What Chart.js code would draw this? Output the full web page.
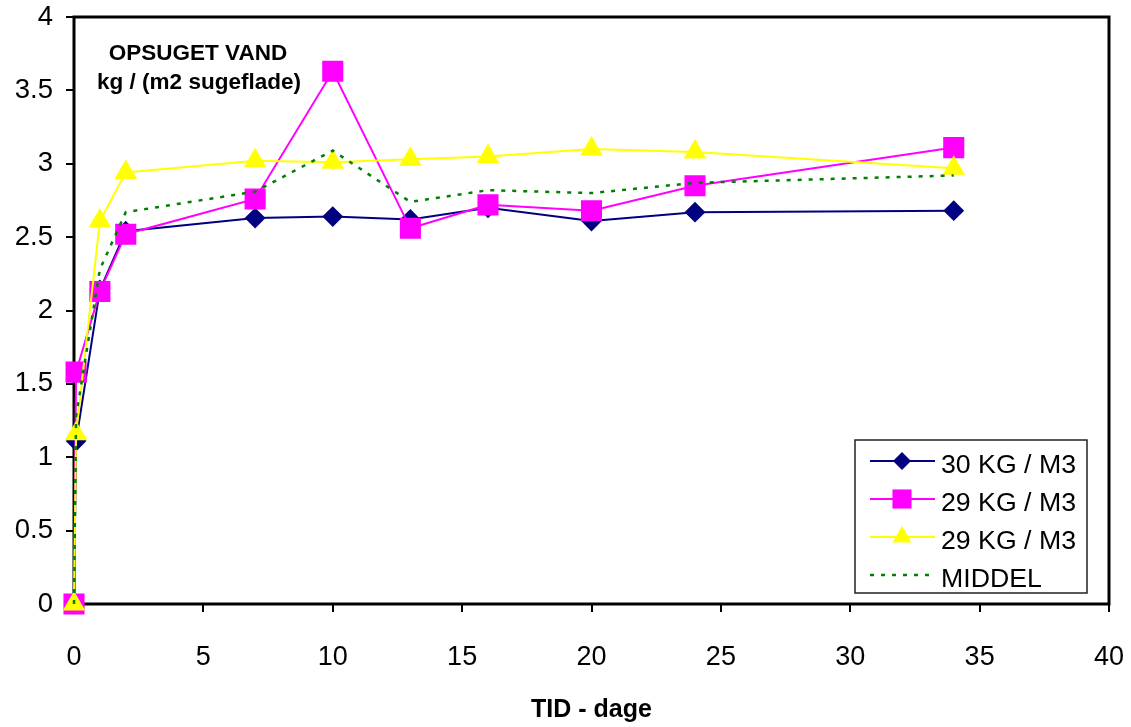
<!DOCTYPE html>
<html>
<head>
<meta charset="utf-8">
<script src="https://cdn.jsdelivr.net/npm/chart.js@4.4.0/dist/chart.umd.min.js"></script>
<style>
  html, body { margin: 0; padding: 0; background: #fff; }
  canvas { display: block; }
</style>
</head>
<body>
<canvas id="graf" width="1131" height="727"></canvas>
<script>
// Tid i dage
const dage = [0, 0.08, 1, 2, 7, 10, 13, 16, 20, 24, 34];

// Opsuget vand, kg / (m2 sugeflade)
const kg30 = [0, 1.11, 2.14, 2.54, 2.63, 2.64, 2.62, 2.70, 2.61, 2.67, 2.68];
const kg29a = [0, 1.58, 2.13, 2.52, 2.76, 3.63, 2.56, 2.72, 2.68, 2.85, 3.11];
const kg29b = [0, 1.16, 2.61, 2.94, 3.02, 3.01, 3.03, 3.05, 3.10, 3.08, 2.97];
const middel = [0, 1.28, 2.28, 2.67, 2.81, 3.09, 2.74, 2.82, 2.80, 2.87, 2.92];

const serieNavne = ['30 KG / M3', '29 KG / M3', '29 KG / M3', 'MIDDEL'];
const xTicks = [0, 5, 10, 15, 20, 25, 30, 35, 40];
const yTicks = [0, 0.5, 1, 1.5, 2, 2.5, 3, 3.5, 4];

function punkter(ys) {
    return dage.map((d, i) => ({ x: d, y: ys[i] }));
}

// ramme rundt om plotomraadet
const ramme = {
    id: 'ramme',
    beforeDatasetsDraw(chart) {
        const a = chart.chartArea;
        const ctx = chart.ctx;
        ctx.save();
        ctx.strokeStyle = '#000';
        ctx.lineWidth = 3;
        ctx.strokeRect(a.left, a.top, a.right - a.left, a.bottom - a.top);
        ctx.restore();
    }
};

// tekst inde i plottet
const overskrift = {
    id: 'overskrift',
    afterDraw(chart) {
        const a = chart.chartArea;
        const ctx = chart.ctx;
        ctx.save();
        ctx.fillStyle = '#000';
        ctx.font = 'bold 22.5px "Liberation Sans", Arial, sans-serif';
        ctx.textAlign = 'center';
        ctx.textBaseline = 'alphabetic';
        ctx.fillText('OPSUGET VAND', a.left + 124, a.top + 43);
        ctx.fillText('kg / (m2 sugeflade)', a.left + 125, a.top + 72);
        ctx.restore();
    }
};

function tegnMarkor(ctx, stil, x, y, r, farve) {
    ctx.fillStyle = farve;
    ctx.beginPath();
    if (stil === 'rectRot') {
        ctx.moveTo(x - r, y); ctx.lineTo(x, y - r); ctx.lineTo(x + r, y); ctx.lineTo(x, y + r);
    } else if (stil === 'rect') {
        const s = r * Math.SQRT1_2;
        ctx.rect(x - s, y - s, 2 * s, 2 * s);
    } else if (stil === 'triangle') {
        const h = r * Math.sin(Math.PI / 3);
        ctx.moveTo(x, y - r); ctx.lineTo(x + h, y + r / 2); ctx.lineTo(x - h, y + r / 2);
    }
    ctx.closePath();
    ctx.fill();
}

// forklaring nederst til hoejre
const forklaring = {
    id: 'forklaring',
    afterDatasetsDraw(chart) {
        const ctx = chart.ctx;
        const a = chart.chartArea;
        const bx = a.right - 254, by = a.bottom - 164, bw = 232, bh = 153;
        ctx.save();
        ctx.fillStyle = '#fff';
        ctx.fillRect(bx, by, bw, bh);
        ctx.strokeStyle = '#222';
        ctx.lineWidth = 1.5;
        ctx.strokeRect(bx, by, bw, bh);
        ctx.font = '26.7px "Liberation Sans", Arial, sans-serif';
        ctx.textBaseline = 'alphabetic';
        ctx.textAlign = 'left';
        const order = [0, 1, 2, 3];
        order.forEach((di, i) => {
            const ds = chart.data.datasets[di];
            const cy = by + 21 + i * 38;
            ctx.strokeStyle = ds.borderColor;
            ctx.lineWidth = ds.borderWidth;
            ctx.setLineDash(ds.borderDash || []);
            ctx.beginPath();
            ctx.moveTo(bx + 15, cy);
            ctx.lineTo(bx + (ds.borderDash ? 75 : 80), cy);
            ctx.stroke();
            ctx.setLineDash([]);
            if (ds.pointRadius > 0) {
                tegnMarkor(ctx, ds.pointStyle, bx + 47, cy, ds.pointRadius, ds.pointBackgroundColor);
            }
            ctx.fillStyle = '#000';
            ctx.fillText(ds.label, bx + 86, cy + 12);
        });
        ctx.restore();
    }
};

new Chart(document.getElementById('graf'), {
    type: 'line',
    data: {
        datasets: [{
            label: serieNavne[0],
            data: punkter(kg30),
            borderColor: '#000080',
            backgroundColor: '#000080',
            pointBackgroundColor: '#000080',
            pointBorderColor: '#000080',
            borderWidth: 2,
            pointStyle: 'rectRot',
            pointRadius: 9,
            order: 3
        }, {
            label: serieNavne[1],
            data: punkter(kg29a),
            borderColor: '#ff00ff',
            backgroundColor: '#ff00ff',
            pointBackgroundColor: '#ff00ff',
            pointBorderColor: '#ff00ff',
            borderWidth: 2,
            pointStyle: 'rect',
            pointRadius: 13.5,
            order: 2
        }, {
            label: serieNavne[2],
            data: punkter(kg29b),
            borderColor: '#ffff00',
            backgroundColor: '#ffff00',
            pointBackgroundColor: '#ffff00',
            pointBorderColor: '#ffff00',
            borderWidth: 2,
            pointStyle: 'triangle',
            pointRadius: 11,
            order: 1
        }, {
            label: serieNavne[3],
            data: punkter(middel),
            borderColor: '#008000',
            backgroundColor: '#008000',
            pointBackgroundColor: '#008000',
            borderWidth: 2.5,
            borderDash: [4, 7],
            pointRadius: 0,
            order: 0
        }]
    },
    options: {
        responsive: false,
        animation: false,
        clip: false,
        elements: {
            line: { tension: 0, fill: false },
            point: { borderWidth: 1, hoverRadius: 0 }
        },
        layout: { padding: { left: 0, top: 17, right: 22, bottom: 0 } },
        plugins: {
            legend: { display: false },
            tooltip: { enabled: false }
        },
        scales: {
            x: {
                type: 'linear',
                min: 0,
                max: 40,
                afterBuildTicks: (s) => { s.ticks = xTicks.map(v => ({ value: v })); },
                afterFit: (s) => { s.height = 123; s.paddingLeft = 0; s.paddingRight = 0; },
                border: { display: false },
                grid: { drawOnChartArea: false, drawTicks: true, tickLength: 8, color: '#000', lineWidth: 2 },
                ticks: { color: '#000', padding: 29, maxRotation: 0, callback: (v) => String(v), font: { family: '"Liberation Sans", Arial, sans-serif', size: 27 } },
                title: {
                    display: true,
                    text: 'TID - dage',
                    color: '#000',
                    padding: { top: 0, bottom: 2 },
                    font: { family: '"Liberation Sans", Arial, sans-serif', size: 25, weight: 'bold' }
                }
            },
            y: {
                min: 0,
                max: 4,
                afterBuildTicks: (s) => { s.ticks = yTicks.map(v => ({ value: v })); },
                afterFit: (s) => { s.width = 74; s.paddingTop = 0; s.paddingBottom = 0; },
                border: { display: false },
                grid: { drawOnChartArea: false, drawTicks: true, tickLength: 8, color: '#000', lineWidth: 2 },
                ticks: { color: '#000', padding: 13, callback: (v) => String(v), font: { family: '"Liberation Sans", Arial, sans-serif', size: 27.5 } }
            }
        }
    },
    plugins: [ramme, forklaring, overskrift]
});
</script>
</body>
</html>
